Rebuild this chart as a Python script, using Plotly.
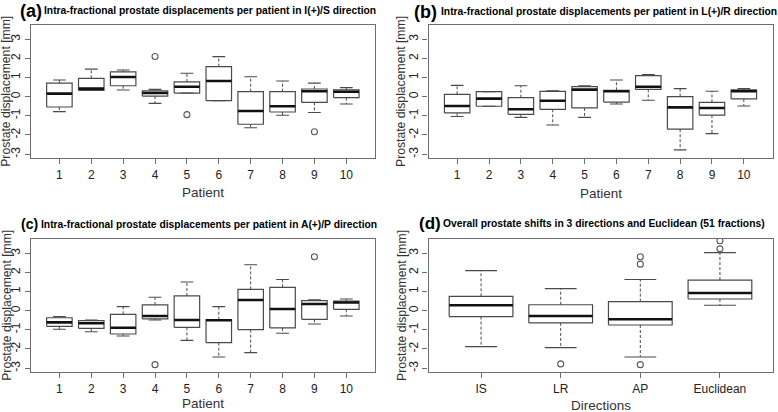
import plotly.graph_objects as go

W, H = 778, 412

# ---------------- data ----------------
patients = [1, 2, 3, 4, 5, 6, 7, 8, 9, 10]
patient_labels = ["1", "2", "3", "4", "5", "6", "7", "8", "9", "10"]

# (a) I(+)/S
a_upper = [0.87, 1.44, 1.39, 0.38, 1.22, 2.09, 1.04, 0.82, 0.71, 0.47]
a_q3 = [0.71, 0.96, 1.30, 0.30, 0.77, 1.57, 0.26, 0.26, 0.40, 0.35]
a_med = [0.16, 0.42, 1.03, 0.19, 0.52, 0.82, -0.75, -0.50, 0.28, 0.26]
a_q1 = [-0.54, 0.33, 0.57, 0.03, 0.19, -0.21, -1.44, -0.80, -0.30, -0.05]
a_lower = [-0.78, 0.33, 0.35, -0.35, 0.19, -0.21, -1.62, -0.97, -0.83, -0.38]
a_out_x = [4, 5, 9]
a_out_y = [2.10, -0.94, -1.83]

# (b) L(+)/R
b_upper = [0.59, 0.26, 0.57, 0.31, 0.57, 0.87, 1.15, 0.42, 0.28, 0.42]
b_q3 = [0.12, 0.26, -0.05, 0.28, 0.52, 0.33, 1.10, 0.00, -0.30, 0.35]
b_med = [-0.49, -0.10, -0.66, -0.21, 0.37, 0.28, 0.52, -0.56, -0.59, 0.28]
b_q1 = [-0.85, -0.50, -0.92, -0.66, -0.59, -0.28, 0.38, -1.70, -0.96, -0.12]
b_lower = [-1.04, -0.50, -1.08, -1.48, -1.08, -0.38, -0.19, -2.78, -1.93, -0.49]
b_out_x = []
b_out_y = []

# (c) A(+)/P
c_upper = [-0.31, -0.49, 0.21, 0.70, 1.50, 0.21, 2.40, 1.63, 0.57, 0.61]
c_q3 = [-0.37, -0.52, -0.19, 0.30, 0.77, -0.47, 1.11, 1.22, 0.52, 0.50]
c_med = [-0.61, -0.66, -0.89, -0.28, -0.49, -0.50, 0.56, 0.09, 0.35, 0.43]
c_q1 = [-0.82, -0.92, -1.22, -0.43, -0.87, -1.67, -0.99, -0.90, -0.45, 0.07]
c_lower = [-0.97, -1.10, -1.32, -0.49, -1.55, -2.42, -2.19, -1.18, -0.70, -0.28]
c_out_x = [4, 9]
c_out_y = [-2.82, 2.82]

# (d) overall
directions = [1, 2, 3, 4]
direction_labels = ["IS", "LR", "AP", "Euclidean"]
d_upper = [2.09, 1.15, 1.63, 3.03]
d_q3 = [0.75, 0.31, 0.47, 1.60]
d_med = [0.28, -0.28, -0.45, 0.92]
d_q1 = [-0.31, -0.64, -0.75, 0.61]
d_lower = [-1.88, -1.93, -2.42, 0.28]
d_out_x = [2, 3, 3, 3, 4, 4]
d_out_y = [-2.78, 2.82, 2.43, -2.82, 3.23, 3.65]

y_ticks = [-3, -2, -1, 0, 1, 2, 3]

# ---------------- styling ----------------
FONT = "Liberation Sans, Arial, sans-serif"
BOX_COL = "#4a4a4a"
FRAME_COL = "#6e6e6e"
TXT_COL = "#222222"
BOXW = 0.8
CAPW = 0.4

fig = go.Figure()


def add_panel(idx, pos, lower, q1, med, q3, upper, ox, oy):
    xa = "x" if idx == 1 else "x%d" % idx
    ya = "y" if idx == 1 else "y%d" % idx
    wx, wy, bx, by, cx, cy, mx, my = [], [], [], [], [], [], [], []
    for p, lo, a, m, b, hi in zip(pos, lower, q1, med, q3, upper):
        x0, x1 = p - BOXW / 2, p + BOXW / 2
        wx += [p, p, None, p, p, None]
        wy += [b, hi, None, a, lo, None]
        cx += [p - CAPW / 2, p + CAPW / 2, None, p - CAPW / 2, p + CAPW / 2, None]
        cy += [hi, hi, None, lo, lo, None]
        bx += [x0, x1, x1, x0, x0, None]
        by += [a, a, b, b, a, None]
        mx += [x0, x1, None]
        my += [m, m, None]
    common = dict(xaxis=xa, yaxis=ya, mode="lines", hoverinfo="skip", showlegend=False)
    fig.add_trace(go.Scatter(x=wx, y=wy, line=dict(color=BOX_COL, width=1, dash="3px,2px"), **common))
    fig.add_trace(go.Scatter(x=cx, y=cy, line=dict(color=BOX_COL, width=1.1), **common))
    fig.add_trace(go.Scatter(x=bx, y=by, line=dict(color=BOX_COL, width=1.2), **common))
    fig.add_trace(go.Scatter(x=mx, y=my, line=dict(color="#111111", width=2.6), **common))
    if ox:
        fig.add_trace(go.Scatter(x=ox, y=oy, xaxis=xa, yaxis=ya, mode="markers",
                                 marker=dict(symbol="circle-open", size=6, color="#5a5a5a",
                                             line=dict(width=1.1)),
                                 hoverinfo="skip", showlegend=False, cliponaxis=True))


add_panel(1, patients, a_lower, a_q1, a_med, a_q3, a_upper, a_out_x, a_out_y)
add_panel(2, patients, b_lower, b_q1, b_med, b_q3, b_upper, b_out_x, b_out_y)
add_panel(3, patients, c_lower, c_q1, c_med, c_q3, c_upper, c_out_x, c_out_y)
add_panel(4, directions, d_lower, d_q1, d_med, d_q3, d_upper, d_out_x, d_out_y)

# pixel frames of the four plot regions (left, right, top, bottom)
frames = {
    1: (30.7, 375.0, 24.7, 158.3),
    2: (428.5, 772.5, 24.7, 158.3),
    3: (30.7, 375.0, 238.7, 372.3),
    4: (428.5, 772.5, 238.7, 372.3),
}


def xdom(l, r):
    return [l / W, r / W]


def ydom(t, b):
    return [1 - b / H, 1 - t / H]


axis_common = dict(showgrid=False, zeroline=False, showline=True, mirror=True,
                   linecolor=FRAME_COL, linewidth=1.2, ticks="outside", ticklen=5,
                   tickcolor=FRAME_COL, tickwidth=1, automargin=False,
                   tickfont=dict(family=FONT, size=12, color=TXT_COL))

layout = dict(width=W, height=H, margin=dict(l=0, r=0, t=0, b=0),
              paper_bgcolor="white", plot_bgcolor="white", showlegend=False)

for i in range(1, 5):
    l, r, t, b = frames[i]
    xk = "xaxis" if i == 1 else "xaxis%d" % i
    yk = "yaxis" if i == 1 else "yaxis%d" % i
    anchor_x = "y" if i == 1 else "y%d" % i
    anchor_y = "x" if i == 1 else "x%d" % i
    if i < 4:
        tv, tt, rng = patients, patient_labels, [0.1, 10.9]
    else:
        tv, tt, rng = directions, direction_labels, [0.34, 4.66]
    layout[xk] = dict(domain=xdom(l, r), anchor=anchor_x, range=rng, tickmode="array",
                      tickvals=tv, ticktext=tt, **axis_common)
    layout[yk] = dict(domain=ydom(t, b), anchor=anchor_y, range=[-3.22, 3.76], tickmode="array",
                      tickvals=y_ticks, ticktext=[str(v) for v in y_ticks], tickangle=-90,
                      **axis_common)

fig.update_layout(**layout)


def ann(text, px, py, size, xanchor="left", bold=False, angle=0, color="#000000"):
    fig.add_annotation(text=("<b>%s</b>" % text) if bold else text,
                       xref="paper", yref="paper", x=px / W, y=1 - py / H,
                       xanchor=xanchor, yanchor="middle", showarrow=False, textangle=angle,
                       borderpad=0,
                       font=dict(family=FONT, size=size, color=color))


# (label, label right edge px, label y, label size, title text, title left px, title y)
titles = [
    ("(a)", 43.0, 10.5, 18, "Intra-fractional prostate displacements per patient in I(+)/S direction", 43.3, 10.5),
    ("(b)", 438.0, 11.5, 18, "Intra-fractional prostate displacements per patient in L(+)/R direction", 439.7, 12.0),
    ("(c)", 39.0, 223.5, 14, "Intra-fractional prostate displacements per patient in A(+)/P direction", 40.0, 224.3),
    ("(d)", 441.5, 223.8, 17, "Overall prostate shifts in 3 directions and Euclidean (51 fractions)", 442.3, 223.3),
]
for lab, lx, ly, ls, txt, tx, ty in titles:
    ann(lab, lx, ly, ls, xanchor="right", bold=True)
    ann(txt, tx, ty, 10.3, bold=True)

xtitles = [("Patient", 1, 192.7), ("Patient", 2, 193.3), ("Patient", 3, 403.0), ("Directions", 4, 405.0)]
for txt, i, py in xtitles:
    l, r, t, b = frames[i]
    ann(txt, (l + r) / 2, py, 13.5, xanchor="center", color="#333333")

for i, off in [(1, 24.4), (2, 27.0), (3, 24.4), (4, 27.0)]:
    l, r, t, b = frames[i]
    ann("Prostate displacement [mm]", l - off, (t + b) / 2, 12.2, xanchor="center", angle=-90,
        color="#333333")

fig.write_html("out.html", config={"displayModeBar": False},
               post_script="document.body.style.margin='0px';")
